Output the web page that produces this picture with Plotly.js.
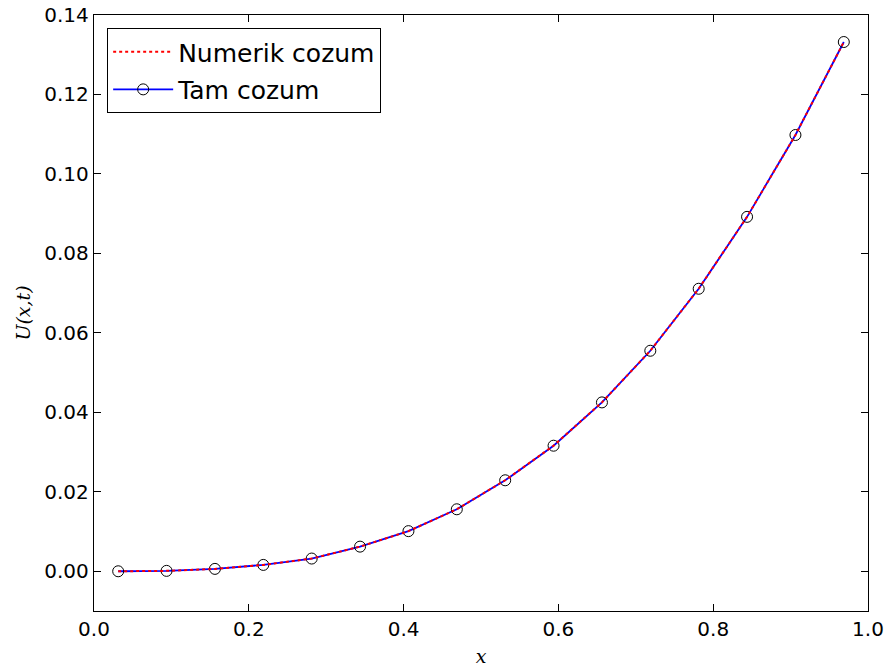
<!DOCTYPE html>
<html>
<head>
<meta charset="utf-8">
<script src="https://cdn.plot.ly/plotly-3.0.1.min.js"></script>
<style>
  html, body { margin: 0; padding: 0; background: #fff; }
  #chart { width: 888px; height: 669px; }
</style>
</head>
<body>
<div id="chart"></div>
<script>
// Grid nodes (cell centres) along x
const xNodes = [0.03125, 0.09375, 0.15625, 0.21875, 0.28125, 0.34375, 0.40625, 0.46875,
                0.53125, 0.59375, 0.65625, 0.71875, 0.78125, 0.84375, 0.90625, 0.96875];

// Numerical solution U(x,t)
const uNumeric = [0.0000, 0.0001, 0.0006, 0.0016, 0.0032, 0.0062, 0.0101, 0.0156,
                  0.0229, 0.0316, 0.0425, 0.0555, 0.0711, 0.0892, 0.1098, 0.1332];

// Exact solution U(x,t)
const uExact = [0.0000, 0.0001, 0.0006, 0.0016, 0.0032, 0.0062, 0.0101, 0.0156,
                0.0229, 0.0316, 0.0425, 0.0555, 0.0711, 0.0892, 0.1098, 0.1332];

const seriesNames = ["Numerik cozum", "Tam cozum"];
const xTicks = [0.0, 0.2, 0.4, 0.6, 0.8, 1.0];
const yTicks = [0.00, 0.02, 0.04, 0.06, 0.08, 0.10, 0.12, 0.14];

const traces = [
  {
    x: xNodes, y: uExact, name: seriesNames[1], legendrank: 2, legendgroup: "b",
    type: "scatter", mode: "lines+markers",
    line: { color: "#0000ff", width: 1.8 },
    marker: { symbol: "circle-open", size: 11, color: "#000000", line: { width: 1 } }
  },
  {
    x: xNodes, y: uNumeric, name: seriesNames[0], legendrank: 1, legendgroup: "a",
    type: "scatter", mode: "lines",
    line: { color: "#ff0000", width: 2, dash: "dot" }
  }
];

const axisCommon = {
  showgrid: false, zeroline: false,
  showline: true, linecolor: "#000", linewidth: 1.2, mirror: "ticks",
  ticks: "inside", ticklen: 7, tickwidth: 1, tickcolor: "#000",
  ticklabeloverflow: "allow",
  tickfont: { family: "DejaVu Sans", size: 20, color: "#000" }
};

const layout = {
  width: 888, height: 669,
  margin: { l: 94, r: 20, t: 15, b: 58 },
  paper_bgcolor: "#fff", plot_bgcolor: "#fff",
  showlegend: true,
  xaxis: Object.assign({}, axisCommon, {
    range: [-1e-9, 1.0 + 1e-9], tickvals: xTicks, ticktext: xTicks.map(v => v.toFixed(1)),
    title: { text: "x", font: { family: "DejaVu Serif", size: 19, color: "#000", style: "italic" }, standoff: 9 }
  }),
  yaxis: Object.assign({}, axisCommon, {
    range: [-0.01, 0.14 + 1e-9], tickvals: yTicks, ticktext: yTicks.map(v => v.toFixed(2)),
    title: { text: "U(x,t)", font: { family: "DejaVu Serif", size: 19, color: "#000", style: "italic" }, standoff: 8 }
  }),
  legend: {
    x: 0.017, y: 0.978, xanchor: "left", yanchor: "top",
    bgcolor: "#fff", bordercolor: "#000", borderwidth: 1,
    font: { family: "DejaVu Sans", size: 25, color: "#000" },
    traceorder: "grouped", tracegroupgap: 2, itemwidth: 60
  }
};

Plotly.newPlot("chart", traces, layout, { displayModeBar: false, staticPlot: true });
</script>
</body>
</html>
